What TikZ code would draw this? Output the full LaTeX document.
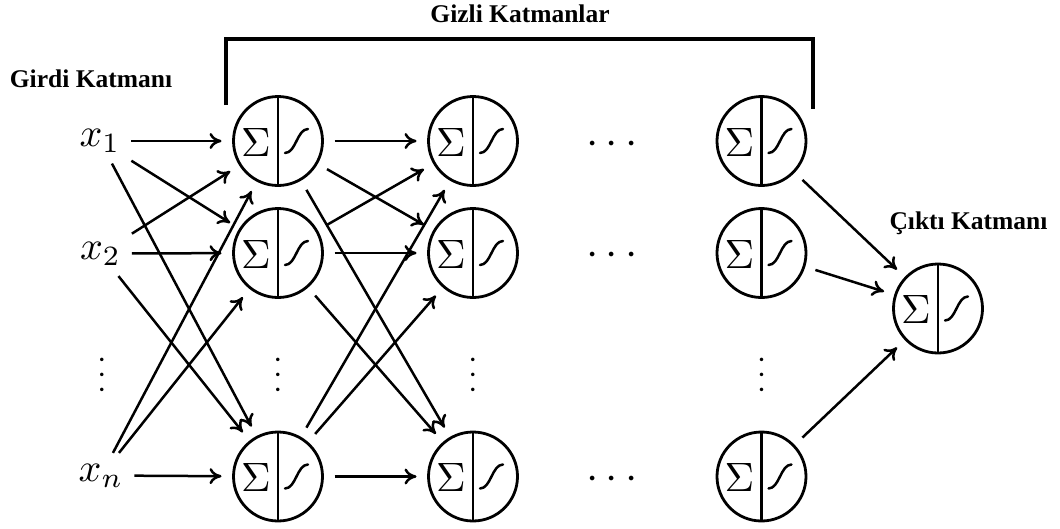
\documentclass[tikz,border=0pt]{standalone}
\usepackage{fontspec}
\usepackage{graphicx}
\newfontfamily\lblfont{Liberation Serif}
\usetikzlibrary{arrows.meta}
\tikzset{
  neuron/.style={circle, draw, line width=2.8pt, minimum size=89pt, inner sep=0pt, outer sep=12pt,
    path picture={
      \draw[line width=2.5pt] (path picture bounding box.north) -- (path picture bounding box.south);
      \node[inner sep=0pt] at ([xshift=-22pt,yshift=-1pt]path picture bounding box.center) {\scalebox{4.1}{$\Sigma$}};
      \draw[line width=2.5pt, line cap=round]
        ([shift={(7,12)}]path picture bounding box.center)
        .. controls ([shift={(18,12)}]path picture bounding box.center)
        and ([shift={(19,-12)}]path picture bounding box.center)
        .. ([shift={(30,-12)}]path picture bounding box.center);
    }},
  inp/.style={inner sep=11pt, outer sep=0pt},
  arr/.style={line width=2.5pt, -{To[length=12pt,width=16pt]}},
  lbl/.style={font=\lblfont\bfseries\fontsize{25.5}{30}\selectfont, inner sep=0pt, anchor=base},
  vdot/.style={inner sep=0pt},
  hdot/.style={inner sep=0pt},
  bracketline/.style={line width=4pt}
}
\begin{document}
\begin{tikzpicture}[x=1pt,y=-1pt]
\useasboundingbox (0,0) rectangle (1060,528);
% labels
\node[lbl] (lg) at (520,22) {Gizli Katmanlar};
\node[lbl] (li) at (91,87.5) {Girdi Katmanı};
\node[lbl] (lo) at (968.5,229) {Çıktı Katmanı};
% bracket
\coordinate (bl) at (226,105);
\coordinate (br) at (812.5,109);
\draw[bracketline] (bl) |- (519,38.5) -| (br);
% inputs
\node[inp] (x1) at (100,141) {\scalebox{4}{$x_1$}};
\node[inp] (x2) at (100.5,253.5) {\scalebox{4}{$x_2$}};
\node[inp] (xn) at (101,475.5) {\scalebox{4}{$x_n$}};
% neurons
\node[neuron] (a1) at (278,141) {};
\node[neuron] (a2) at (278,253) {};
\node[neuron] (an) at (278,476.5) {};
\node[neuron] (b1) at (473,141) {};
\node[neuron] (b2) at (473,253) {};
\node[neuron] (bn) at (473,476.5) {};
\node[neuron] (c1) at (761.5,141) {};
\node[neuron] (c2) at (761.5,253) {};
\node[neuron] (cn) at (761.5,476.5) {};
\node[neuron] (o) at (938,308.5) {};
% dots
\node[vdot] (d0) at (102,375) {\rotatebox{90}{\scalebox{3.3}{$\ldots$}}};
\node[vdot] (d1) at (278,375) {\rotatebox{90}{\scalebox{3.3}{$\ldots$}}};
\node[vdot] (d2) at (473,375) {\rotatebox{90}{\scalebox{3.3}{$\ldots$}}};
\node[vdot] (d3) at (761.5,375) {\rotatebox{90}{\scalebox{3.3}{$\ldots$}}};
\node[hdot] (h1) at (612,145) {\scalebox{4.4}{$\cdots$}};
\node[hdot] (h2) at (612,256) {\scalebox{4.4}{$\cdots$}};
\node[hdot] (h3) at (612,480) {\scalebox{4.4}{$\cdots$}};
% connections
\foreach \s in {x1,x2,xn}{
  \foreach \t in {a1,a2,an}{
    \draw[arr] (\s) -- (\t);
  }
}
\foreach \s in {a1,a2,an}{
  \foreach \t in {b1,b2,bn}{
    \draw[arr] (\s) -- (\t);
  }
}
\foreach \s in {c1,c2,cn}{
  \draw[arr] (\s) -- (o);
}
\end{tikzpicture}
\end{document}
